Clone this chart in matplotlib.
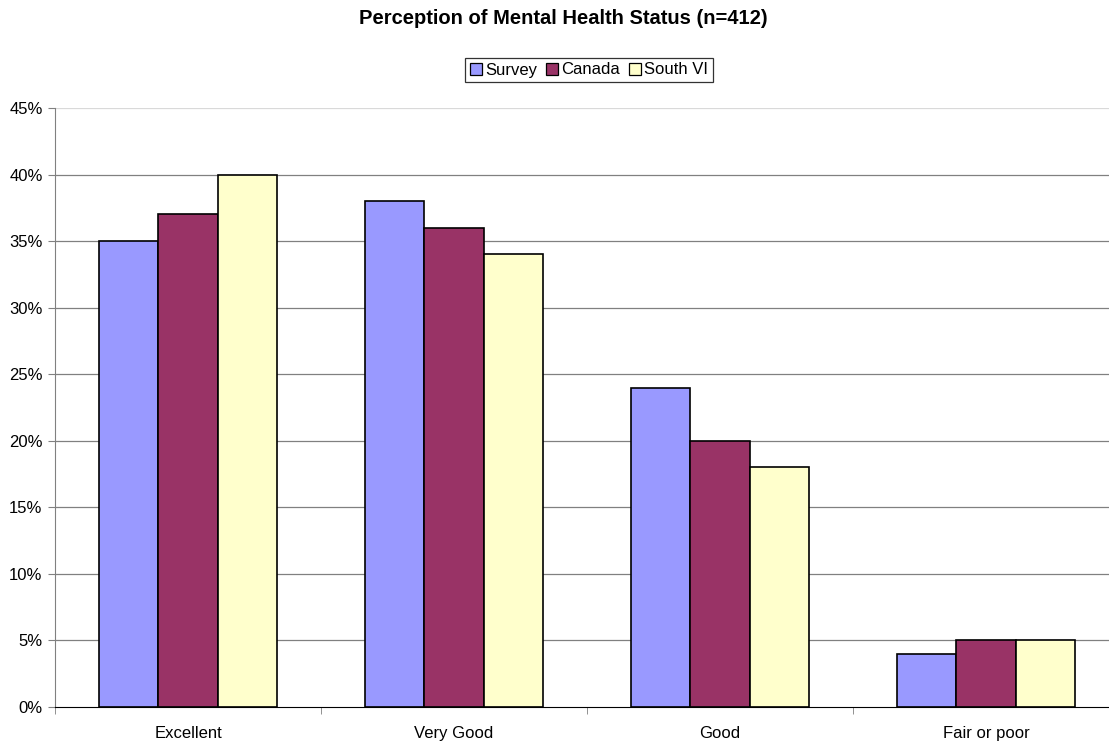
import matplotlib
matplotlib.use("Agg")
import matplotlib.pyplot as plt
import numpy as np

plt.rcParams['font.family'] = ['Liberation Sans', 'DejaVu Sans']

categories = ["Excellent", "Very Good", "Good", "Fair or poor"]
series_names = ["Survey", "Canada", "South VI"]
survey = [35, 38, 24, 4]
canada = [37, 36, 20, 5]
south_vi = [40, 34, 18, 5]
colors = ["#9999FF", "#993366", "#FFFFCC"]

W, H = 1109, 742
fig = plt.figure(figsize=(W / 100, H / 100), dpi=100)
# plot area runs slightly past the right edge of the canvas
ax = fig.add_axes([55 / W, 1 - 707 / H, 1064 / W, (707 - 108) / H])

x = np.arange(len(categories))
width = 0.222
for i, (vals, name, col) in enumerate(zip([survey, canada, south_vi], series_names, colors)):
    ax.bar(x + (i - 1) * width, vals, width, color=col, edgecolor="black",
           linewidth=1.2, label=name, zorder=3)

ax.set_xlim(-0.5, len(categories) - 0.5)
ax.set_ylim(0, 45)
ax.set_yticks(np.arange(0, 46, 5))
ax.set_yticklabels([f"{v}%" for v in range(0, 46, 5)], fontsize=12)
for v in range(5, 45, 5):
    ax.axhline(v, color="#808080", linewidth=0.9, zorder=1)
ax.axhline(45, color="#d9d9d9", linewidth=0.9, zorder=1)

ax.set_xticks(x)
ax.set_xticklabels(categories, fontsize=12)
ax.tick_params(axis="x", length=0, pad=14)
ax.set_xticks(np.arange(-0.5, len(categories), 1), minor=True)
ax.tick_params(axis="x", which="minor", length=5, color="#808080")
ax.tick_params(axis="y", length=5, color="#808080", pad=4)

for s in ["top", "right"]:
    ax.spines[s].set_visible(False)
ax.spines["left"].set_color("#808080")
ax.spines["bottom"].set_color("black")
ax.spines["bottom"].set_zorder(4)

fig.text(563 / W, 1 - 19 / H, "Perception of Mental Health Status (n=412)",
         ha="center", va="center", fontsize=14.5, fontweight="bold")

leg = ax.legend(loc="center", bbox_to_anchor=(589 / W, 1 - 70 / H),
                bbox_transform=fig.transFigure, ncol=3, fontsize=12,
                frameon=True, fancybox=False, edgecolor="black",
                handlelength=0.75, handleheight=0.75, handletextpad=0.2,
                columnspacing=0.5, borderpad=0.25, borderaxespad=0)
leg.get_frame().set_linewidth(0.9)
for h in leg.legend_handles:
    h.set_linewidth(0.9)

fig.savefig("out.png", dpi=100)
